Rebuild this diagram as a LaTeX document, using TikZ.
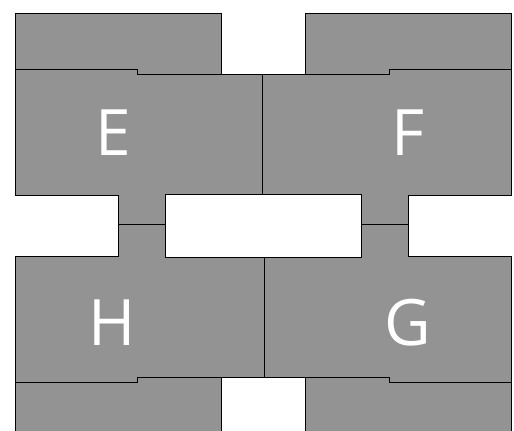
\documentclass[tikz,border=0pt]{standalone}
\usepackage{fontspec}
\setmainfont{Open Sans}
\usepackage{tikz}
\usetikzlibrary{positioning}

\definecolor{roomgray}{RGB}{147,147,147}

\tikzset{
    room/.style={fill=roomgray, draw=black, line width=0.8pt, line join=miter},
    roomlabel/.style={text=white, inner sep=0pt, font=\fontsize{64}{64}\selectfont}
}

\begin{document}
\begin{tikzpicture}[x=1pt, y=-1pt]

    \useasboundingbox (0,0) rectangle (514,431);
    \clip (0,0) rectangle (514,431);

    % Top blocks
    \draw[room] (15.7,13.3) -- (221.7,13.3) -- (221.7,74) -- (137.3,74)
        -- (137.3,69.3) -- (15.7,69.3) -- cycle;
    \draw[room] (305,13.3) -- (511,13.3) -- (511,69.3) -- (389.3,69.3)
        -- (389.3,74) -- (305,74) -- cycle;

    % Room E
    \draw[room] (15.7,69.3) -- (137.3,69.3) -- (137.3,74) -- (262.7,74)
        -- (262.7,194) -- (165.3,194) -- (165.3,224.3) -- (118.3,224.3)
        -- (118.3,195) -- (15.7,195) -- cycle;

    % Room F
    \draw[room] (262.7,74) -- (389.3,74) -- (389.3,69.3) -- (511,69.3)
        -- (511,195) -- (408.3,195) -- (408.3,224.3) -- (361.7,224.3)
        -- (361.7,194) -- (262.7,194) -- cycle;

    % Room H
    \draw[room] (15.7,256.7) -- (118.3,256.7) -- (118.3,224.3) -- (165.3,224.3)
        -- (165.3,257.7) -- (264,257.7) -- (264,377.7) -- (137.3,377.7)
        -- (137.3,382.3) -- (15.7,382.3) -- cycle;

    % Room G
    \draw[room] (264,257.3) -- (361.7,257.3) -- (361.7,224.3) -- (408.3,224.3)
        -- (408.3,256.3) -- (511,256.3) -- (511,382.7) -- (389.3,382.7)
        -- (389.3,377.7) -- (264,377.7) -- cycle;

    % Bottom blocks
    \draw[room] (15.7,382.3) -- (137.3,382.3) -- (137.3,377.7) -- (221.7,377.7)
        -- (221.7,445) -- (15.7,445) -- cycle;
    \draw[room] (305,377.7) -- (389.3,377.7) -- (389.3,382.7) -- (511,382.7)
        -- (511,445) -- (305,445) -- cycle;

    % Labels
    \node[roomlabel] (labelE) at (113,133) {E};
    \node[roomlabel] (labelF) at (408,133) {F};
    \node[roomlabel] (labelH) at (112.5,323) {H};
    \node[roomlabel] (labelG) at (407.5,323) {G};

\end{tikzpicture}
\end{document}
